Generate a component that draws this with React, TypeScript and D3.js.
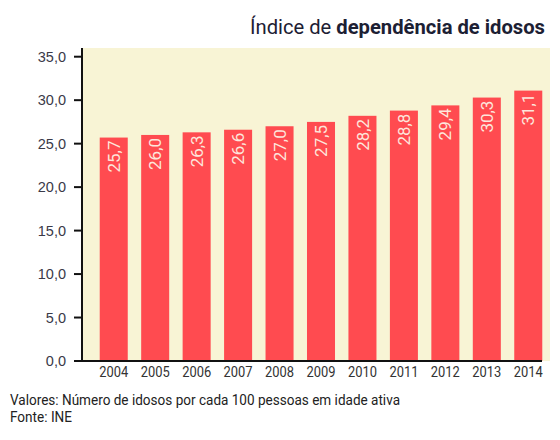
import React from "react";
import * as d3 from "d3";

const years = ["2004","2005","2006","2007","2008","2009","2010","2011","2012","2013","2014"];
const values = [25.7, 26.0, 26.3, 26.6, 27.0, 27.5, 28.2, 28.8, 29.4, 30.3, 31.1];
const yTicks = [0, 5, 10, 15, 20, 25, 30, 35];
const titleNormal = "Índice de ";
const titleBold = "dependência de idosos";
const footer1 = "Valores: Número de idosos por cada 100 pessoas em idade ativa";
const footer2 = "Fonte: INE";

const W = 560, H = 440;
const fmt = (v: number) => d3.format(".1f")(v).replace(".", ",");

export default function App() {
  const x = d3.scaleBand<string>().domain(years).range([79, 563]).paddingInner(0.324).paddingOuter(0.5);
  const y = d3.scaleLinear().domain([0, 35]).range([361, 56.7]);
  const font = "Roboto, 'Noto Sans', sans-serif";
  return (
    <svg width={W} height={H} style={{ position: "absolute", left: 0, top: 0, background: "#fff" }}>
      <text x={250} y={34} fontFamily={font} fontSize={21} fill="#1c2033" textLength={295} lengthAdjust="spacingAndGlyphs">
        <tspan>{titleNormal}</tspan>
        <tspan fontWeight={700}>{titleBold}</tspan>
      </text>
      <rect x={83} y={48} width={467} height={313} fill="#f8f4d5" />
      {years.map((yr, i) => (
        <rect key={yr} x={x(yr)} y={y(values[i])} width={x.bandwidth()} height={y(0) - y(values[i])} fill="#ff4b50" />
      ))}
      {years.map((yr, i) => {
        const cx = (x(yr) as number) + x.bandwidth() / 2;
        const ty = y(values[i]) + 3;
        return (
          <text key={"l" + yr} transform={`translate(${cx},${ty}) rotate(-90)`} textAnchor="end" dy="0.36em"
            fontFamily={font} fontSize={17} fill="#fde6dc">{fmt(values[i])}</text>
        );
      })}
      <line x1={82} x2={82} y1={48} y2={362} stroke="#111" strokeWidth={2} />
      <line x1={74} x2={542} y1={361} y2={361} stroke="#111" strokeWidth={2} />
      {yTicks.map(t => (
        <g key={t}>
          <line x1={74} x2={82} y1={y(t)} y2={y(t)} stroke="#111" strokeWidth={2} />
          <text x={66} y={y(t)} dy="0.35em" textAnchor="end" fontFamily="'Liberation Sans', Arial, sans-serif" fontSize={14.5} fill="#3a3a48">{fmt(t)}</text>
        </g>
      ))}
      {years.map(yr => (
        <text key={"x" + yr} x={(x(yr) as number) + x.bandwidth() / 2} y={377} textAnchor="middle" fontFamily={font}
          fontSize={14} fill="#333" textLength={29} lengthAdjust="spacingAndGlyphs">{yr}</text>
      ))}
      <text x={10} y={405} fontFamily={font} fontSize={14} fill="#222" textLength={390} lengthAdjust="spacingAndGlyphs">{footer1}</text>
      <text x={10} y={422} fontFamily={font} fontSize={14} fill="#222" textLength={62} lengthAdjust="spacingAndGlyphs">{footer2}</text>
    </svg>
  );
}
